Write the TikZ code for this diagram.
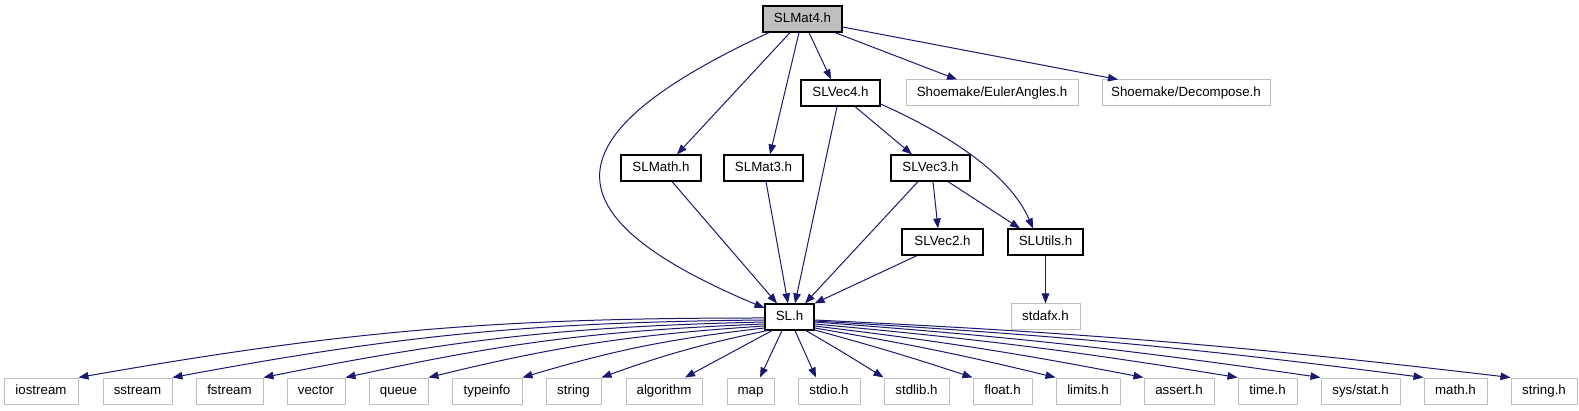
\documentclass[tikz,border=0pt]{standalone}
\usepackage{fontspec}
\setmainfont{Liberation Sans}
\usetikzlibrary{arrows.meta}
\definecolor{edgecol}{HTML}{191970}
\definecolor{greyline}{HTML}{BFBFBF}
\tikzset{
  base/.style={rectangle, inner sep=0pt, minimum height=26pt, text height=9.6pt, text depth=2.6pt, font=\fontsize{13.33}{16}\selectfont, text=black},
  doc/.style={base, draw=black, line width=1.2pt, fill=white},
  undoc/.style={base, draw=greyline, line width=1pt, fill=white},
  focus/.style={base, draw=black, line width=1.2pt, fill=greyline},
  edge/.style={draw=edgecol, line width=1pt, -{Triangle[length=10pt,width=7.5pt]}},
}
\begin{document}
\begin{tikzpicture}[x=1pt,y=-1pt]
\useasboundingbox (0,0) rectangle (1579,411);
% nodes
\node[focus, minimum width=79pt] (slmat4) at (802.5,19) {SLMat4.h};
\node[doc, minimum width=79pt] (slvec4) at (840.5,93) {SLVec4.h};
\node[undoc, minimum width=172pt] (euler) at (992,93) {Shoemake/EulerAngles.h};
\node[undoc, minimum width=168pt] (decomp) at (1186,93) {Shoemake/Decompose.h};
\node[doc, minimum width=80pt] (slmath) at (661,168) {SLMath.h};
\node[doc, minimum width=79pt] (slmat3) at (763.5,168) {SLMat3.h};
\node[doc, minimum width=79pt] (slvec3) at (930.5,168) {SLVec3.h};
\node[doc, minimum width=81pt] (slvec2) at (942.5,242) {SLVec2.h};
\node[doc, minimum width=75pt] (slutils) at (1045.5,242) {SLUtils.h};
\node[doc, minimum width=49pt] (slh) at (789.5,317) {SL.h};
\node[undoc, minimum width=69pt] (stdafx) at (1045.5,317) {stdafx.h};
\node[undoc, minimum width=74pt] (iostream) at (41,391) {iostream};
\node[undoc, minimum width=69pt] (sstream) at (137.5,391) {sstream};
\node[undoc, minimum width=67pt] (fstream) at (229.5,391) {fstream};
\node[undoc, minimum width=58pt] (vector) at (316,391) {vector};
\node[undoc, minimum width=59pt] (queue) at (398.5,391) {queue};
\node[undoc, minimum width=70pt] (typeinfo) at (487,391) {typeinfo};
\node[undoc, minimum width=55pt] (string) at (573.5,391) {string};
\node[undoc, minimum width=76pt] (algorithm) at (664,391) {algorithm};
\node[undoc, minimum width=47pt] (map) at (750.5,391) {map};
\node[undoc, minimum width=62pt] (stdio) at (829,391) {stdio.h};
\node[undoc, minimum width=65pt] (stdlib) at (916.5,391) {stdlib.h};
\node[undoc, minimum width=59pt] (float) at (1002.5,391) {float.h};
\node[undoc, minimum width=64pt] (limits) at (1088,391) {limits.h};
\node[undoc, minimum width=70pt] (assert) at (1179,391) {assert.h};
\node[undoc, minimum width=59pt] (time) at (1267.5,391) {time.h};
\node[undoc, minimum width=79pt] (sysstat) at (1360.5,391) {sys/stat.h};
\node[undoc, minimum width=63pt] (math) at (1455.5,391) {math.h};
\node[undoc, minimum width=66pt] (stringh) at (1544,391) {string.h};
% edges from SLMat4
\draw[edge] (slmat4.south -| 769,0) .. controls (548,135) and (543,215) .. (slh.west |- 0,308);
\draw[edge] (slmat4.south -| 790,0) -- (slmath.north -| 677,0);
\draw[edge] (slmat4.south -| 799,0) -- (slmat3.north -| 770,0);
\draw[edge] (slmat4.south -| 809,0) -- (slvec4.north -| 831,0);
\draw[edge] (slmat4.south -| 835,0) -- (euler.north -| 957,0);
\draw[edge] (slmat4.east |- 0,27) -- (decomp.north -| 1118,0);
% edges from SLVec4
\draw[edge] (slvec4.south -| 837,0) -- (slh.north -| 795,0);
\draw[edge] (slvec4.south -| 855,0) -- (slvec3.north -| 912,0);
\draw[edge] (slvec4.east |- 0,104) .. controls (950,135) and (1010,175) .. (slutils.north -| 1033,0);
% second level
\draw[edge] (slmath.south -| 672,0) -- (slh.north -| 777,0);
\draw[edge] (slmat3.south -| 766,0) -- (slh.north -| 788,0);
\draw[edge] (slvec3.south -| 918,0) -- (slh.north -| 805,0);
\draw[edge] (slvec3.south -| 933,0) -- (slvec2.north -| 938,0);
\draw[edge] (slvec3.south -| 948,0) -- (slutils.north -| 1020,0);
\draw[edge] (slvec2.south -| 917,0) -- (slh.north east);
\draw[edge] (slutils.south) -- (stdafx.north);
% SL.h fan-out
\draw[edge] (slh.west |- 0,318) to[bend right=5] (iostream.north east);
\draw[edge] (slh.west |- 0,320) to[bend right=5] (sstream.north east);
\draw[edge] (slh.west |- 0,322) to[bend right=5] (fstream.north east);
\draw[edge] (slh.west |- 0,324) to[bend right=5] (vector.north east);
\draw[edge] (slh.west |- 0,326) to[bend right=5] (queue.north east);
\draw[edge] (slh.west |- 0,328) to[bend right=5] (typeinfo.north east);
\draw[edge] (slh.south -| 767,0) to[bend right=4] (string.north east);
\draw[edge] (slh.south -| 772,0) -- (algorithm.north -| 685,0);
\draw[edge] (slh.south -| 782,0) -- (map.north -| 760,0);
\draw[edge] (slh.south -| 795,0) -- (stdio.north -| 816,0);
\draw[edge] (slh.south -| 806,0) to[bend left=1] (stdlib.north west);
\draw[edge] (slh.east |- 0,330) to[bend left=1.5] (float.north west);
\draw[edge] (slh.east |- 0,328) to[bend left=2] (limits.north west);
\draw[edge] (slh.east |- 0,326) to[bend left=2] (assert.north west);
\draw[edge] (slh.east |- 0,324) to[bend left=2] (time.north west);
\draw[edge] (slh.east |- 0,322) to[bend left=2] (sysstat.north west);
\draw[edge] (slh.east |- 0,321) to[bend left=2] (math.north west);
\draw[edge] (slh.east |- 0,320) to[bend left=2] (stringh.north west);
\end{tikzpicture}
\end{document}
